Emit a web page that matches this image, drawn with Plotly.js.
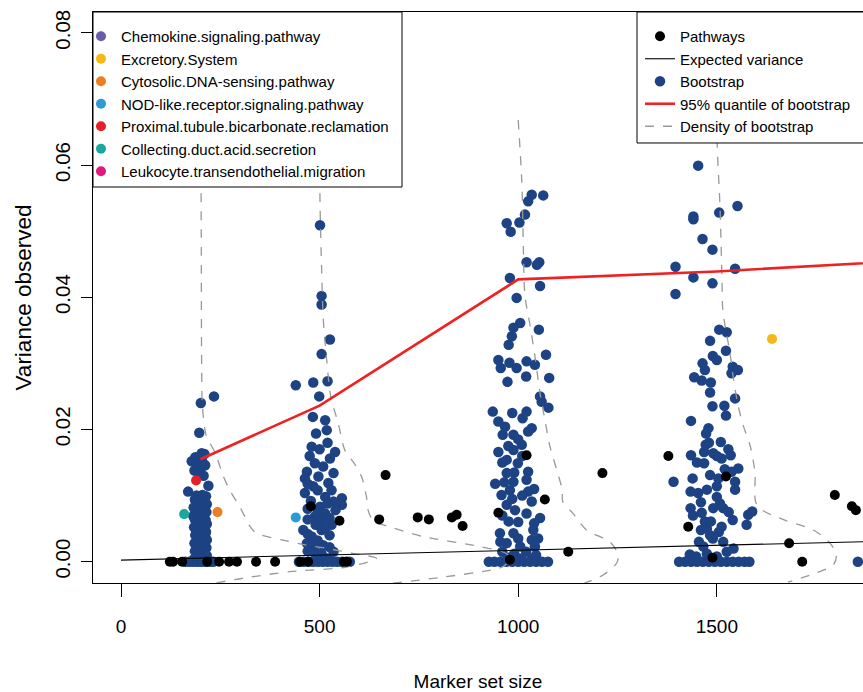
<!DOCTYPE html>
<html><head><meta charset="utf-8">
<script src="https://cdn.plot.ly/plotly-3.0.1.min.js"></script>
<style>html,body{margin:0;padding:0;background:#fff}#chart{width:863px;height:692px}</style>
</head><body><div id="chart"></div>
<script>
// ---- Bootstrap samples per marker-set size group: [size, variance] ----
const boot200 = [[234,0.0250],[201,0.0240],[197,0.0195],[203,0.0164],[210,0.0163],[187,0.0158],[197,0.0158],[178,0.0152],[205,0.0151],[192,0.0146],[212,0.0146],[185,0.0138],[200,0.0139],[208,0.0130],[196,0.0132],[220,0.0115],[169,0.0106],
[190,0.0100],[205,0.0101],[214,0.0099],[186,0.0094],[197,0.0094],[211,0.0093],[192,0.0088],[204,0.0088],[216,0.0087],[183,0.0082],[199,0.0082],[210,0.0081],[189,0.0076],[205,0.0076],[215,0.0075],[194,0.0070],[208,0.0070],[182,0.0069],[186,0.0064],[200,0.0064],[213,0.0063],[191,0.0058],[205,0.0058],[216,0.0057],[184,0.0052],[198,0.0052],[211,0.0051],[190,0.0046],[203,0.0046],[214,0.0045],[187,0.0040],[200,0.0040],[212,0.0039],[193,0.0034],[207,0.0034],[216,0.0033],[185,0.0028],[199,0.0028],[211,0.0027],[190,0.0022],[204,0.0022],[215,0.0021],[186,0.0016],[198,0.0016],[210,0.0015],[192,0.0010],[206,0.0010],[216,0.0009],[184,0.0004],[197,0.0004],[212,0.0004],
[162,0],[172,0],[182,0],[192,0],[202,0],[212,0],[222,0],[232,0]];
const boot500 = [[501,0.0509],[505,0.0402],[505,0.0389],[526,0.0336],[505,0.0314],[440,0.0267],[484,0.0271],[520,0.0273],[499,0.0250],
[483,0.0219],[514,0.0214],[518,0.0199],[491,0.0194],[480,0.0174],[539,0.0166],[526,0.0156],[488,0.0149],[509,0.0144],[468,0.0136],[535,0.0134],[497,0.0129],[463,0.0126],[522,0.0119],[484,0.0114],[463,0.0104],[514,0.0098],[556,0.0096],[535,0.0091],[556,0.0086],[501,0.0083],[488,0.0068],[514,0.0073],[530,0.0056],[459,0.0048],[505,0.0048],[480,0.0038],[468,0.0028],[509,0.0025],[488,0.0015],[535,0.0015],
[475,0.0160],[500,0.0170],[520,0.0180],[470,0.0118],[495,0.0108],[530,0.0108],[478,0.0092],[520,0.0088],[470,0.0080],[540,0.0078],[495,0.0074],[470,0.0064],[505,0.0062],[525,0.0066],[490,0.0056],[515,0.0052],[470,0.0042],[525,0.0040],[495,0.0032],[485,0.0024],[525,0.0022],[470,0.0016],[505,0.0012],[490,0.0006],[520,0.0005],
[448,0],[460,0],[472,0],[484,0],[496,0],[508,0],[520,0],[532,0],[544,0],[556,0],[568,0],[576,0]];
const boot1000 = [[1034,0.0555],[1063,0.0554],[1025,0.0545],[1017,0.0525],[1003,0.0513],[971,0.0512],[981,0.0499],[1021,0.0453],[1053,0.0453],[1047,0.0449],[979,0.0429],[1055,0.0417],[996,0.0399],[1005,0.0361],[988,0.0354],[1052,0.0351],[984,0.0341],[976,0.0328],[1070,0.0313],[950,0.0305],[978,0.0301],[1021,0.0303],[956,0.0293],[996,0.0293],[1042,0.0298],[1020,0.0280],[973,0.0272],[1078,0.0278],[1055,0.0250],[1059,0.0242],[1076,0.0233],[936,0.0227],[985,0.0225],[1021,0.0227],[950,0.0212],[1011,0.0217],[1034,0.0202],[967,0.0204],[988,0.0192],[961,0.0192],[1025,0.0197],[1009,0.0177],[950,0.0166],[988,0.0169],[971,0.0154],[999,0.0149],[1025,0.0136],[971,0.0134],[988,0.0121],[942,0.0118],[1021,0.0124],[958,0.0101],[979,0.0108],[1025,0.0106],[1034,0.0091],[971,0.0086],[992,0.0078],[1021,0.0073],[1055,0.0066],[976,0.0061],[954,0.0043],[988,0.0043],[1038,0.0048],[1034,0.0033],[971,0.0028],[1005,0.0023],[1042,0.0023],
[960,0.0015],[990,0.0012],[1020,0.0015],[1045,0.0010],[975,0.0006],[1005,0.0005],[1035,0.0004],[955,0.0030],[1000,0.0035],[1050,0.0035],[1000,0.0060],[1040,0.0058],[960,0.0070],[985,0.0095],[1010,0.0100],[965,0.0120],[990,0.0135],[1040,0.0110],[960,0.0150],[1010,0.0160],[1000,0.0185],[975,0.0175],
[926,0],[940,0],[955,0],[970,0],[985,0],[1000,0],[1015,0],[1030,0],[1045,0],[1060,0],[1075,0]];
const boot1500 = [[1453,0.0599],[1552,0.0538],[1506,0.0528],[1441,0.0522],[1441,0.0518],[1464,0.0488],[1489,0.0472],[1396,0.0446],[1546,0.0443],[1441,0.0430],[1489,0.0421],[1396,0.0405],[1506,0.0351],[1525,0.0347],[1483,0.0334],[1490,0.0311],[1500,0.0305],[1523,0.0319],[1464,0.0300],[1470,0.0290],[1540,0.0295],[1553,0.0290],[1537,0.0285],[1443,0.0279],[1462,0.0274],[1485,0.0271],[1483,0.0256],[1546,0.0247],[1489,0.0235],[1519,0.0236],[1523,0.0221],[1435,0.0213],[1479,0.0202],[1473,0.0194],[1510,0.0181],[1472,0.0177],[1468,0.0166],[1435,0.0161],[1491,0.0164],[1529,0.0170],[1512,0.0156],[1535,0.0161],[1468,0.0149],[1554,0.0141],[1537,0.0136],[1483,0.0131],[1504,0.0126],[1439,0.0126],[1391,0.0121],[1546,0.0121],[1500,0.0114],[1546,0.0109],[1475,0.0109],[1434,0.0106],[1453,0.0104],[1579,0.0071],[1589,0.0076],[1434,0.0081],[1462,0.0074],[1491,0.0081],[1508,0.0088],[1516,0.0081],[1540,0.0063],[1470,0.0061],[1485,0.0061],[1512,0.0053],[1575,0.0056],[1460,0.0048],[1483,0.0040],[1516,0.0030],[1466,0.0023],[1542,0.0020],[1432,0.0011],
[1448,0.0008],[1475,0.0012],[1500,0.0008],[1525,0.0015],[1455,0.0030],[1490,0.0035],[1505,0.0045],[1475,0.0050],[1440,0.0070],[1530,0.0075],[1500,0.0098],[1460,0.0090],[1520,0.0140],[1500,0.0160],[1480,0.0180],[1450,0.0150],
[1405,0],[1420,0],[1435,0],[1450,0],[1465,0],[1480,0],[1495,0],[1510,0],[1525,0],[1540,0],[1555,0],[1570,0],[1582,0]];
const boot2000 = [[1855,0]];

// ---- Observed pathways ----
const pathways = [[123,0],[131,0],[154,0],[217,0],[247,0],[272,0],[292,0],[340,0],[388,0],[451,0],[471,0],[561,0],[569,0],
[478,0.0084],[550,0.0062],[666,0.0131],[650,0.0064],[747,0.0067],[775,0.0064],[833,0.0067],[845,0.0071],[860,0.0054],[950,0.0074],
[1021,0.0161],[1212,0.0134],[1067,0.0094],[1126,0.0015],[979,0.0003],
[1428,0.0053],[1489,0.0006],[1682,0.0028],[1715,0],[1797,0.0101],[1840,0.0084],[1850,0.0078],[1378,0.0160],[1523,0.0129]];

// ---- Highlighted pathways (two lie beyond the cropped right edge) ----
const hlNames = ["Chemokine.signaling.pathway","Excretory.System","Cytosolic.DNA-sensing.pathway","NOD-like.receptor.signaling.pathway","Proximal.tubule.bicarbonate.reclamation","Collecting.duct.acid.secretion","Leukocyte.transendothelial.migration"];
const hlColors = ["#6a5ca8","#f7b815","#ef7e22","#2a9ad8","#e5202a","#19a79e","#e2187f"];
const hlSize = [[1960],[1639],[243],[440],[189],[159],[2040]];
const hlVar = [[0.0120],[0.0337],[0.0075],[0.0067],[0.0123],[0.0072],[0.0090]];

// ---- Expected variance and 95% quantile ----
const expSize = [0, 2000];
const expVar = [0.00024, 0.00322];
const qSize = [200, 500, 1000, 1500, 2000];
const qVar = [0.0155, 0.0236, 0.0427, 0.0439, 0.0456];

// ---- Bootstrap density profiles: [variance, scaled density width] ----
const densGroups = [200, 500, 1000, 1500];
const dens200 = [[0.083,0],[0.050,2],[0.030,3],[0.0235,5],[0.0190,15],[0.0165,37],[0.0130,57],[0.0108,74],[0.0083,99],[0.0068,112],[0.0053,125],[0.0043,141],[0.0033,205],[0.0025,267],[0.0020,320],[0.0013,380],[0.0005,443],[-0.0008,368],[-0.0015,225],[-0.0025,107],[-0.0033,31]];
const dens500 = [[0.083,0],[0.0545,1],[0.0444,5],[0.0369,9],[0.0304,18],[0.0250,28],[0.0209,47],[0.0168,64],[0.0148,88],[0.0128,106],[0.0098,118],[0.0078,122],[0.0062,135],[0.0053,176],[0.0038,261],[0.0023,403],[0.0012,471],[0.0003,478],[-0.0008,460],[-0.0013,428],[-0.0024,302],[-0.0033,176]];
const dens1000 = [[0.0668,0],[0.0575,9],[0.0474,13],[0.0402,17],[0.0357,30],[0.0311,42],[0.0255,55],[0.0215,67],[0.0174,80],[0.0139,97],[0.0108,111],[0.0091,112],[0.0073,138],[0.0048,172],[0.0030,231],[0.0010,252],[-0.0002,248],[-0.0020,214],[-0.0033,164]];
const dens1500 = [[0.083,0],[0.0632,1],[0.0537,8],[0.0426,13],[0.0381,15],[0.0356,21],[0.0316,33],[0.0276,42],[0.0235,54],[0.0205,67],[0.0175,84],[0.0135,96],[0.0090,98],[0.0077,117],[0.0063,171],[0.0048,243],[0.0028,285],[0.0010,301],[-0.0005,293],[-0.0016,254],[-0.0031,179]];

const xTicks = [0, 500, 1000, 1500];
const yTicks = [0, 0.02, 0.04, 0.06, 0.08];

const FONT = "Liberation Sans, Arial, Helvetica, sans-serif";
const NAVY = "#1d4384";

const bootAll = boot200.concat(boot500, boot1000, boot1500, boot2000);
const densProfiles = [dens200, dens500, dens1000, dens1500];
const dx = [], dy = [];
densProfiles.forEach((p, i) => {
  p.forEach(([v, w]) => { dx.push(densGroups[i] + w); dy.push(v); });
  dx.push(null); dy.push(null);
});

const traces = [];
traces.push({type:'scatter', mode:'markers', name:'Bootstrap', legend:'legend2', legendrank:3,
  x: bootAll.map(d=>d[0]), y: bootAll.map(d=>d[1]),
  marker:{color:NAVY, size:10.5}, hoverinfo:'x+y'});
traces.push({type:'scatter', mode:'lines', name:'Density of bootstrap', legend:'legend2', legendrank:5,
  x: dx, y: dy, connectgaps:false, line:{color:'#999999', width:1.3, dash:'dash', shape:'spline', smoothing:0.8}});
traces.push({type:'scatter', mode:'lines', name:'Expected variance', legend:'legend2', legendrank:2,
  x: expSize, y: expVar, line:{color:'#000', width:1.1}});
traces.push({type:'scatter', mode:'lines', name:'95% quantile of bootstrap', legend:'legend2', legendrank:4,
  x: qSize, y: qVar, line:{color:'#ee2222', width:2.6}});
traces.push({type:'scatter', mode:'markers', name:'Pathways', legend:'legend2', legendrank:1,
  x: pathways.map(d=>d[0]), y: pathways.map(d=>d[1]), marker:{color:'#000', size:10}});
hlNames.forEach((nm, i) => {
  traces.push({type:'scatter', mode:'markers', name:nm, legend:'legend', legendrank:i+1,
    x: hlSize[i], y: hlVar[i], marker:{color:hlColors[i], size:10}});
});

const layout = {
  width: 863, height: 692,
  margin: {l:93, r:0, t:12, b:109, pad:0},
  paper_bgcolor:'#fff', plot_bgcolor:'#fff',
  font:{family:FONT, color:'#000'},
  showlegend:true,
  xaxis:{range:[-70.5,1868], tickvals:xTicks, ticktext:xTicks.map(String), ticks:'outside', ticklen:13, tickwidth:1, tickcolor:'#000',
    ticklabelstandoff:13,
    showline:true, linecolor:'#000', linewidth:1, mirror:true, showgrid:false, zeroline:false,
    tickfont:{size:19, family:FONT}, title:{text:'Marker set size', font:{size:19, family:FONT}, standoff:42}},
  yaxis:{range:[-0.00322,0.08314], tickvals:yTicks, ticktext:yTicks.map(v=>v.toFixed(2)), ticks:'outside', ticklen:11, tickwidth:1, tickcolor:'#000',
    ticklabelstandoff:3,
    tickangle:-90, showline:true, linecolor:'#000', linewidth:1, mirror:false, showgrid:false, zeroline:false,
    tickfont:{size:20.5, family:FONT}, title:{text:'Variance observed', font:{size:22.5, family:FONT}, standoff:12}},
  shapes:[
    {type:'rect', xref:'paper', yref:'paper', x0:0, x1:0.4013, y0:0.6935, y1:1, fillcolor:'#fff', line:{color:'#000', width:1}, layer:'above'},
    {type:'rect', xref:'paper', yref:'paper', x0:0.7065, x1:1.05, y0:0.7706, y1:1, fillcolor:'#fff', line:{color:'#000', width:1}, layer:'above'}
  ],
  legend:{x:-0.0156, y:0.986, xanchor:'left', yanchor:'top', bgcolor:'rgba(0,0,0,0)', borderwidth:0,
    font:{size:15, family:FONT}, traceorder:'normal', tracegroupgap:0},
  legend2:{x:0.7104, y:0.986, xanchor:'left', yanchor:'top', bgcolor:'rgba(0,0,0,0)', borderwidth:0,
    font:{size:15, family:FONT}, traceorder:'normal', tracegroupgap:0}
};

Plotly.newPlot('chart', traces, layout, {displayModeBar:false, staticPlot:true});
</script></body></html>
